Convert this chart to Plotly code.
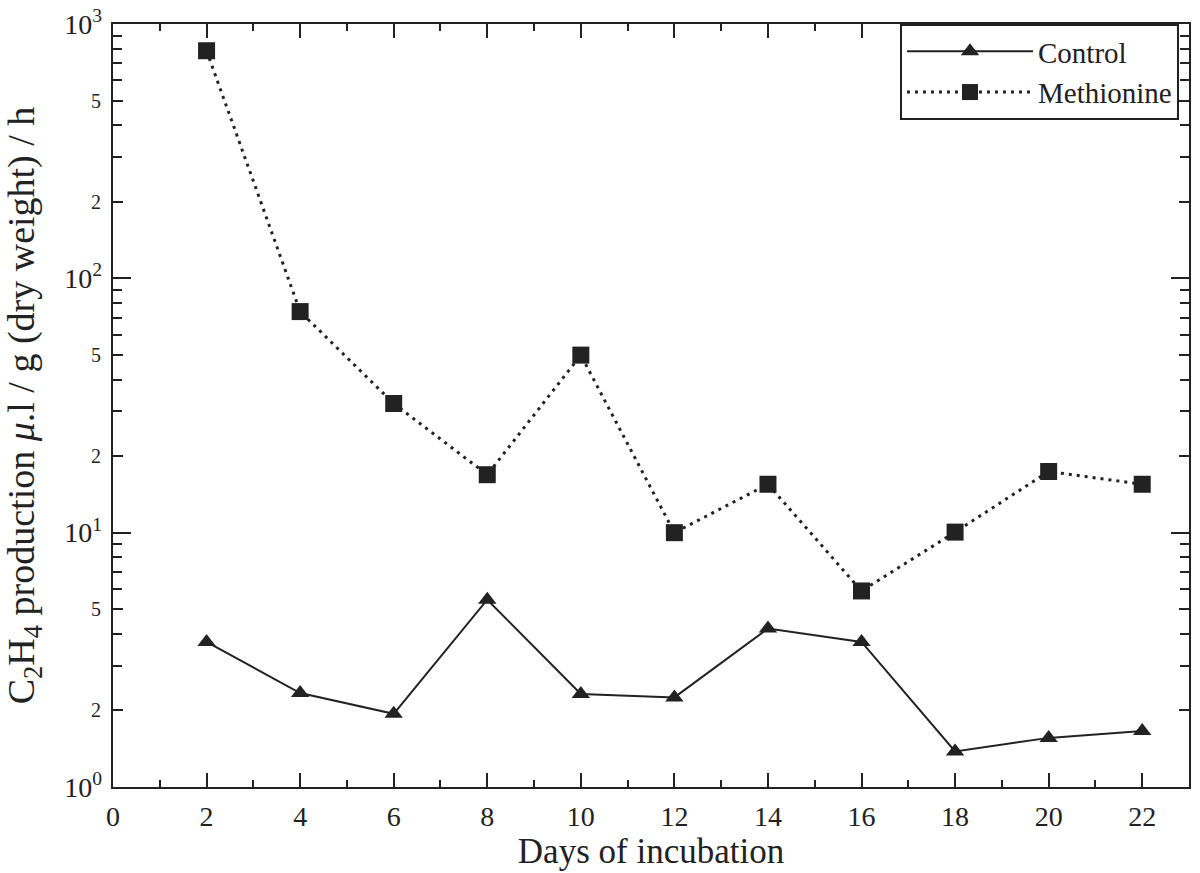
import plotly.graph_objects as go

days = [2, 4, 6, 8, 10, 12, 14, 16, 18, 20, 22]
control = [3.72, 2.34, 1.94, 5.45, 2.32, 2.25, 4.2, 3.72, 1.38, 1.56, 1.66]
methionine = [785, 74, 32.2, 16.9, 49.9, 10.0, 15.5, 5.9, 10.05, 17.4, 15.5]

x_ticks = list(range(0, 23, 2))
y_sub_vals = [2, 5, 20, 50, 200, 500]
y_sub_text = ["2", "5", "2", "5", "2", "5"]
y_decades = [1, 10, 100, 1000]
y_decade_text = ["10<sup>0</sup>", "10<sup>1</sup>", "10<sup>2</sup>", "10<sup>3</sup>"]
y_minor = [m * d for d in [1, 10, 100] for m in [3, 4, 6, 7, 8, 9]]

INK = "#222222"
FONT = "Liberation Serif"

fig = go.Figure()
fig.add_trace(go.Scatter(
    x=days, y=control, name="Control", mode="lines+markers",
    line=dict(color=INK, width=2),
    marker=dict(symbol="triangle-up", size=16, color=INK),
    yaxis="y",
))
fig.add_trace(go.Scatter(
    x=days, y=methionine, name="Methionine", mode="lines+markers",
    line=dict(color=INK, width=3, dash="3px,5px"),
    marker=dict(symbol="square", size=17, color=INK),
    yaxis="y2",
))

fig.update_layout(
    width=1200, height=873,
    margin=dict(l=113, r=11, t=24, b=86, autoexpand=False),
    paper_bgcolor="white", plot_bgcolor="white",
    font=dict(family=FONT, color=INK),
    showlegend=True,
    legend=dict(
        x=0.7314, y=1.0, xanchor="left", yanchor="top",
        bgcolor="white", bordercolor=INK, borderwidth=2,
        font=dict(family=FONT, size=29, color=INK),
        itemwidth=126,
    ),
    xaxis=dict(
        range=[0, 23], tickmode="array", tickvals=x_ticks,
        ticks="inside", ticklen=14, tickwidth=2, tickcolor=INK,
        showline=True, linewidth=2, linecolor=INK, mirror="ticks",
        showgrid=False, zeroline=False, automargin=False,
        tickfont=dict(family=FONT, size=28, color=INK),
        ticklabelstandoff=3,
        minor=dict(dtick=1, ticks="inside", ticklen=7, tickwidth=1.5, tickcolor=INK),
        title=dict(text="Days of incubation", font=dict(family=FONT, size=35, color=INK), standoff=6),
    ),
    yaxis=dict(
        type="log", range=[0, 3], tickmode="array",
        tickvals=y_sub_vals, ticktext=y_sub_text,
        ticks="inside", ticklen=10, tickwidth=1.5, tickcolor=INK,
        showline=True, linewidth=2, linecolor=INK, mirror="ticks",
        showgrid=False, zeroline=False, automargin=False,
        tickfont=dict(family=FONT, size=20, color=INK),
        ticklabelstandoff=6,
        minor=dict(tickvals=y_minor, ticks="inside", ticklen=9, tickwidth=1.5, tickcolor=INK),
        title=dict(text="C<sub>2</sub>H<sub>4</sub> production <i>μ</i>.l / g (dry weight) / h",
                   font=dict(family=FONT, size=38, color=INK), standoff=50),
    ),
    yaxis2=dict(
        type="log", range=[0, 3], overlaying="y", side="left",
        tickmode="array", tickvals=y_decades, ticktext=y_decade_text,
        ticks="inside", ticklen=18, tickwidth=2, tickcolor=INK,
        tickfont=dict(family=FONT, size=28, color=INK),
        ticklabelstandoff=10,
        showline=False, mirror="ticks", showgrid=False, zeroline=False, automargin=False,
    ),
)

fig.write_html("out.html", config={"displayModeBar": False},
               post_script="document.body.style.margin='0';")
